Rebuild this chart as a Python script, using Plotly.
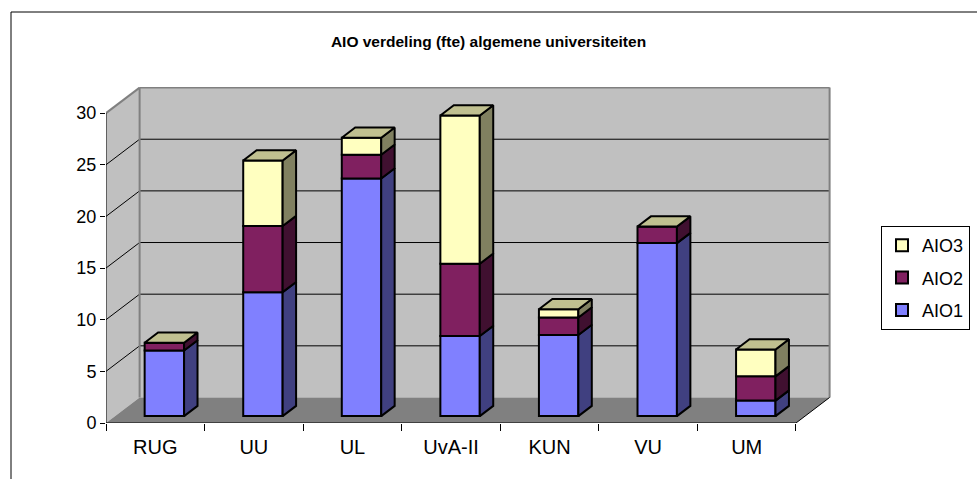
import plotly.graph_objects as go

# ---------------- data ----------------
categories = ["RUG", "UU", "UL", "UvA-II", "KUN", "VU", "UM"]
aio1 = [6.35, 12.0, 23.0, 7.75, 7.85, 16.75, 1.5]
aio2 = [0.75, 6.4, 2.3, 7.0, 1.7, 1.6, 2.35]
aio3 = [0.0, 6.35, 1.65, 14.35, 0.8, 0.0, 2.6]
series_names = ["AIO1", "AIO2", "AIO3"]
y_ticks = [0, 5, 10, 15, 20, 25, 30]

# ---------------- style ----------------
FRONT = ["#8080FF", "#802060", "#FFFFC0"]
SIDE = ["#404080", "#401030", "#808060"]
TOP = ["#4040A0", "#601848", "#C0C090"]
FONT = "Liberation Sans, Arial, sans-serif"

# 3-D projection offsets (data units) for full floor depth
DX = 0.341
DY = 2.47
F0 = 0.27      # bar starts this fraction into the floor
FD = 0.40      # bar depth fraction
BW = 0.40      # bar width (category units)
YMAX = 30

fig = go.Figure()

series = [aio1, aio2, aio3]
n = len(categories)
base_y = F0 * DY
shift_x = F0 * DX
ddx = FD * DX
ddy = FD * DY

# front faces (real bars)
cum = [0.0] * n
bases = []
for s, vals in enumerate(series):
    bases.append(list(cum))
    fig.add_trace(go.Bar(
        x=[i + 0.5 + shift_x for i in range(n)],
        y=vals,
        base=[base_y + c for c in cum],
        width=BW,
        name=series_names[s],
        legendgroup=series_names[s],
        legendrank=10 * (len(series) - s),
        marker=dict(color=FRONT[s], line=dict(color="black", width=2)),
        hoverinfo="skip",
    ))
    cum = [c + v for c, v in zip(cum, vals)]

# side faces
for s, vals in enumerate(series):
    for i in range(n):
        if vals[i] <= 0:
            continue
        xr = i + 0.5 + shift_x + BW / 2
        b = base_y + bases[s][i]
        t = b + vals[i]
        fig.add_trace(go.Scatter(
            x=[xr, xr + ddx, xr + ddx, xr, xr],
            y=[b, b + ddy, t + ddy, t, b],
            mode="lines", fill="toself", fillcolor=SIDE[s],
            line=dict(color="black", width=2),
            showlegend=False, hoverinfo="skip"))

# top faces (top of each stack)
for i in range(n):
    xl = i + 0.5 + shift_x - BW / 2
    xr = xl + BW
    T = base_y + cum[i]
    fig.add_trace(go.Scatter(
        x=[xl, xr, xr + ddx, xl + ddx, xl],
        y=[T, T, T + ddy, T + ddy, T],
        mode="lines", fill="toself", fillcolor=TOP[2],
        line=dict(color="black", width=2),
        showlegend=False, hoverinfo="skip"))

# ---------------- walls & floor (shapes below traces) ----------------
shapes = []
def poly(xs, ys, fill, line_color=None, width=0):
    path = "M " + " L ".join(f"{x},{y}" for x, y in zip(xs, ys)) + " Z"
    shapes.append(dict(type="path", path=path, xref="x", yref="y",
                       fillcolor=fill, line=dict(color=line_color or fill, width=width),
                       layer="below"))
def seg(x0, y0, x1, y1, color, width):
    shapes.append(dict(type="line", x0=x0, y0=y0, x1=x1, y1=y1, xref="x", yref="y",
                       line=dict(color=color, width=width), layer="below"))

# back wall
poly([DX, n + DX, n + DX, DX], [DY, DY, YMAX + DY, YMAX + DY], "#C0C0C0")
# left side wall
poly([0, DX, DX, 0], [0, DY, YMAX + DY, YMAX], "#C0C0C0")
# floor
poly([0, n, n + DX, DX], [0, 0, DY, DY], "#808080")
# gridlines on back wall and side wall
for v in y_ticks[1:-1]:
    seg(DX, v + DY, n + DX, v + DY, "#000000", 1)
    seg(0, v, DX, v + DY, "#000000", 1)
# wall edges
seg(DX, DY, DX, YMAX + DY, "#808080", 2)
seg(n + DX, DY, n + DX, YMAX + DY, "#808080", 2)
seg(DX, YMAX + DY, n + DX, YMAX + DY, "#808080", 2)
seg(0, YMAX, DX, YMAX + DY, "#808080", 2)
# front axis lines
seg(0, 0, 0, YMAX, "#000000", 1)
seg(0, 0, n, 0, "#000000", 1)
seg(n, 0, n + DX, DY, "#000000", 1)

# chart-area border
L, W, T_, H = 106, 725, 87, 336
def px_x(p): return (p - L) / W
def px_y(p): return (T_ + H - p) / H
shapes.append(dict(type="rect", xref="paper", yref="paper",
                   x0=px_x(11), x1=px_x(1000), y0=px_y(500), y1=px_y(12),
                   line=dict(color="#000000", width=1), fillcolor="rgba(0,0,0,0)",
                   layer="below"))

fig.update_layout(
    width=977, height=479,
    margin=dict(l=L, r=977 - L - W, t=T_, b=479 - T_ - H, pad=0, autoexpand=False),
    paper_bgcolor="white", plot_bgcolor="white",
    barmode="overlay",
    shapes=shapes,
    showlegend=True,
    title=dict(text="<b>AIO verdeling (fte) algemene universiteiten</b>",
               x=0.5, xref="container", xanchor="center",
               y=1 - 42 / 479, yref="container", yanchor="middle",
               font=dict(family=FONT, size=15.5, color="black")),
    legend=dict(traceorder="grouped", x=px_x(881), y=px_y(226),
                xanchor="left", yanchor="top", bgcolor="white",
                bordercolor="black", borderwidth=1, tracegroupgap=6,
                font=dict(family=FONT, size=18, color="black")),
    xaxis=dict(range=[0, W / 98.57], tickvals=[i + 0.5 for i in range(n)],
               ticktext=categories, ticks="", showgrid=False, zeroline=False,
               showline=False, ticklabelstandoff=10,
               tickfont=dict(family=FONT, size=20, color="black"),
               minor=dict(tickmode="array", tickvals=list(range(n + 1)),
                          ticks="outside", ticklen=7, tickcolor="black",
                          tickwidth=1, showgrid=False),
               fixedrange=True),
    yaxis=dict(range=[0, H / 10.33], tickvals=y_ticks, ticks="outside",
               ticklen=5, tickcolor="black", showgrid=False, zeroline=False,
               showline=False, tickfont=dict(family=FONT, size=18, color="black"),
               fixedrange=True),
)

fig.write_html("out.html", config={"displayModeBar": False, "staticPlot": True},
               post_script="document.body.style.margin='0px';document.body.style.overflow='hidden';")
